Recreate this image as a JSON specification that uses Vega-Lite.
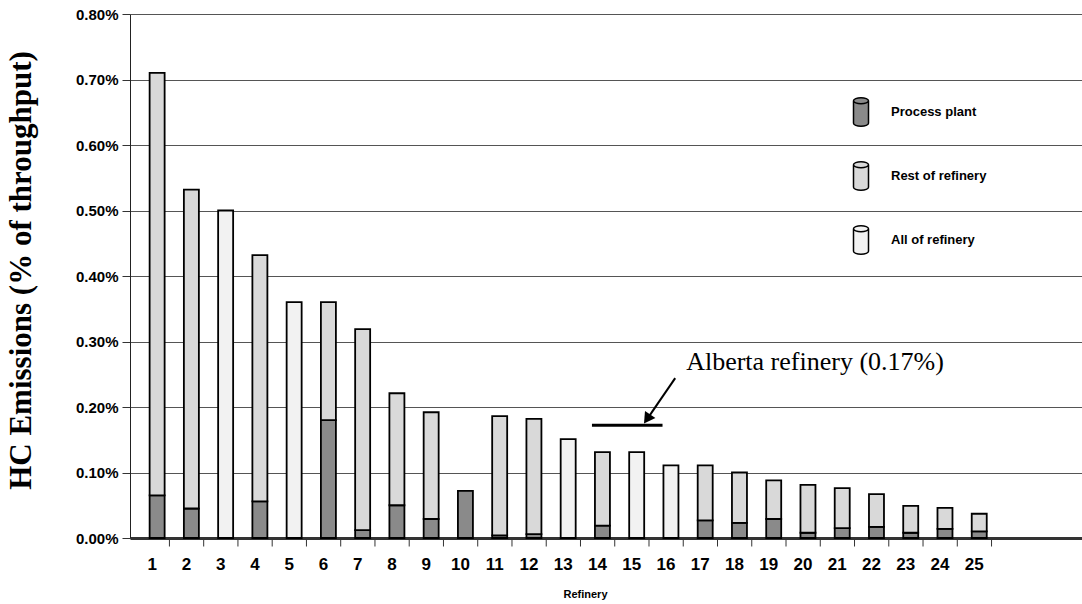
{
  "$schema": "https://vega.github.io/schema/vega-lite/v6.json",
  "width": 952,
  "height": 524,
  "autosize": "none",
  "padding": {"left": 130, "top": 14, "right": 0, "bottom": 66},
  "background": "white",
  "config": {
    "view": {"stroke": null},
    "axis": {"labelColor": "black", "titleColor": "black", "domainColor": "#222", "tickColor": "#333"}
  },
  "data": {
    "values": [
      {"refinery": 1, "type": "Process plant", "value": 0.065},
      {"refinery": 1, "type": "Rest of refinery", "value": 0.645},
      {"refinery": 2, "type": "Process plant", "value": 0.045},
      {"refinery": 2, "type": "Rest of refinery", "value": 0.487},
      {"refinery": 3, "type": "All of refinery", "value": 0.50},
      {"refinery": 4, "type": "Process plant", "value": 0.056},
      {"refinery": 4, "type": "Rest of refinery", "value": 0.376},
      {"refinery": 5, "type": "All of refinery", "value": 0.36},
      {"refinery": 6, "type": "Process plant", "value": 0.18},
      {"refinery": 6, "type": "Rest of refinery", "value": 0.18},
      {"refinery": 7, "type": "Process plant", "value": 0.012},
      {"refinery": 7, "type": "Rest of refinery", "value": 0.307},
      {"refinery": 8, "type": "Process plant", "value": 0.05},
      {"refinery": 8, "type": "Rest of refinery", "value": 0.171},
      {"refinery": 9, "type": "Process plant", "value": 0.029},
      {"refinery": 9, "type": "Rest of refinery", "value": 0.163},
      {"refinery": 10, "type": "Process plant", "value": 0.072},
      {"refinery": 11, "type": "Process plant", "value": 0.004},
      {"refinery": 11, "type": "Rest of refinery", "value": 0.182},
      {"refinery": 12, "type": "Process plant", "value": 0.006},
      {"refinery": 12, "type": "Rest of refinery", "value": 0.176},
      {"refinery": 13, "type": "All of refinery", "value": 0.151},
      {"refinery": 14, "type": "Process plant", "value": 0.019},
      {"refinery": 14, "type": "Rest of refinery", "value": 0.112},
      {"refinery": 15, "type": "All of refinery", "value": 0.131},
      {"refinery": 16, "type": "All of refinery", "value": 0.111},
      {"refinery": 17, "type": "Process plant", "value": 0.027},
      {"refinery": 17, "type": "Rest of refinery", "value": 0.084},
      {"refinery": 18, "type": "Process plant", "value": 0.023},
      {"refinery": 18, "type": "Rest of refinery", "value": 0.077},
      {"refinery": 19, "type": "Process plant", "value": 0.029},
      {"refinery": 19, "type": "Rest of refinery", "value": 0.059},
      {"refinery": 20, "type": "Process plant", "value": 0.008},
      {"refinery": 20, "type": "Rest of refinery", "value": 0.073},
      {"refinery": 21, "type": "Process plant", "value": 0.015},
      {"refinery": 21, "type": "Rest of refinery", "value": 0.061},
      {"refinery": 22, "type": "Process plant", "value": 0.017},
      {"refinery": 22, "type": "Rest of refinery", "value": 0.050},
      {"refinery": 23, "type": "Process plant", "value": 0.008},
      {"refinery": 23, "type": "Rest of refinery", "value": 0.041},
      {"refinery": 24, "type": "Process plant", "value": 0.014},
      {"refinery": 24, "type": "Rest of refinery", "value": 0.032},
      {"refinery": 25, "type": "Process plant", "value": 0.010},
      {"refinery": 25, "type": "Rest of refinery", "value": 0.027}
    ]
  },
  "layer": [
    {
      "mark": {"type": "bar", "size": 15, "stroke": "black", "strokeWidth": 1.8, "xOffset": 5},
      "encoding": {
        "x": {
          "field": "refinery", "type": "quantitative",
          "scale": {"domain": [0.5, 28], "nice": false, "zero": false},
          "title": "Refinery",
          "axis": {
            "labels": false,
            "ticks": false,
            "grid": false,
            "domainWidth": 3,
            "domainColor": "#333",
            "titleFont": "Liberation Sans",
            "titleFontWeight": "bold",
            "titleFontSize": 11,
            "titlePadding": 50,
            "titleX": 455
          }
        },
        "y": {
          "field": "value", "type": "quantitative", "stack": "zero",
          "scale": {"domain": [0, 0.8], "nice": false},
          "title": "HC Emissions (% of throughput)",
          "axis": {
            "values": [0, 0.1, 0.2, 0.3, 0.4, 0.5, 0.6, 0.7, 0.8],
            "labelExpr": "format(datum.value, '.2f') + '%'",
            "grid": true,
            "gridColor": "#555",
            "gridWidth": 1,
            "tickSize": 8,
            "labelPadding": 4,
            "labelFont": "Liberation Sans",
            "labelFontWeight": "bold",
            "labelFontSize": 15,
            "titleFont": "Liberation Serif",
            "titleFontWeight": "bold",
            "titleFontSize": 31,
            "titlePadding": 38,
            "titleY": 256
          }
        },
        "color": {
          "field": "type", "type": "nominal",
          "scale": {
            "domain": ["Process plant", "Rest of refinery", "All of refinery"],
            "range": ["#8a8a8a", "#d9d9d9", "#f2f2f2"]
          },
          "legend": {
            "orient": "none",
            "legendX": 715,
            "legendY": 82,
            "title": null,
            "symbolType": "M-0.5,-0.75 L-0.5,0.75 A0.5,0.2 0 0 0 0.5,0.75 L0.5,-0.75 A0.5,0.2 0 0 0 -0.5,-0.75 Z M-0.5,-0.75 A0.5,0.2 0 0 0 0.5,-0.75",
            "symbolSize": 900,
            "symbolStrokeColor": "black",
            "symbolStrokeWidth": 1.5,
            "symbolOpacity": 1,
            "labelFont": "Liberation Sans",
            "labelFontWeight": "bold",
            "labelFontSize": 13,
            "labelColor": "black",
            "labelOffset": 14,
            "rowPadding": 28
          }
        },
        "order": {"field": "type", "sort": "ascending"}
      }
    },
    {
      "transform": [{"aggregate": [{"op": "count", "as": "n"}], "groupby": ["refinery"]}],
      "mark": {"type": "tick", "orient": "vertical", "color": "#333", "size": 7, "thickness": 1, "xOffset": 17.3, "yOffset": 5, "opacity": 1},
      "encoding": {
        "x": {"field": "refinery", "type": "quantitative"},
        "y": {"datum": 0, "type": "quantitative"}
      }
    },
    {
      "transform": [{"aggregate": [{"op": "count", "as": "n"}], "groupby": ["refinery"]}],
      "mark": {"type": "text", "font": "Liberation Sans", "fontWeight": "bold", "fontSize": 17, "fill": "black", "align": "center", "baseline": "middle", "yOffset": 27},
      "encoding": {
        "x": {"field": "refinery", "type": "quantitative"},
        "y": {"datum": 0, "type": "quantitative"},
        "text": {"field": "refinery", "type": "quantitative", "format": "d"}
      }
    },
    {
      "data": {"values": [{}]},
      "mark": {"type": "rule", "color": "black", "strokeWidth": 3},
      "encoding": {
        "x": {"datum": 13.84, "type": "quantitative"},
        "x2": {"datum": 15.9},
        "y": {"datum": 0.172, "type": "quantitative"}
      }
    },
    {
      "data": {"values": [{}]},
      "mark": {"type": "rule", "color": "black", "strokeWidth": 2},
      "encoding": {
        "x": {"datum": 16.27, "type": "quantitative"},
        "x2": {"datum": 15.51},
        "y": {"datum": 0.244, "type": "quantitative"},
        "y2": {"datum": 0.186}
      }
    },
    {
      "data": {"values": [{}]},
      "mark": {"type": "point", "shape": "triangle", "filled": true, "fill": "black", "size": 160, "angle": 214.6, "opacity": 1, "strokeWidth": 0},
      "encoding": {
        "x": {"datum": 15.48, "type": "quantitative"},
        "y": {"datum": 0.184, "type": "quantitative"}
      }
    },
    {
      "data": {"values": [{}]},
      "mark": {"type": "text", "text": "Alberta refinery (0.17%)", "font": "Liberation Serif", "fontSize": 26, "fontWeight": "normal", "align": "left", "baseline": "middle", "fill": "black"},
      "encoding": {
        "x": {"datum": 16.59, "type": "quantitative"},
        "y": {"datum": 0.269, "type": "quantitative"}
      }
    }
  ]
}
